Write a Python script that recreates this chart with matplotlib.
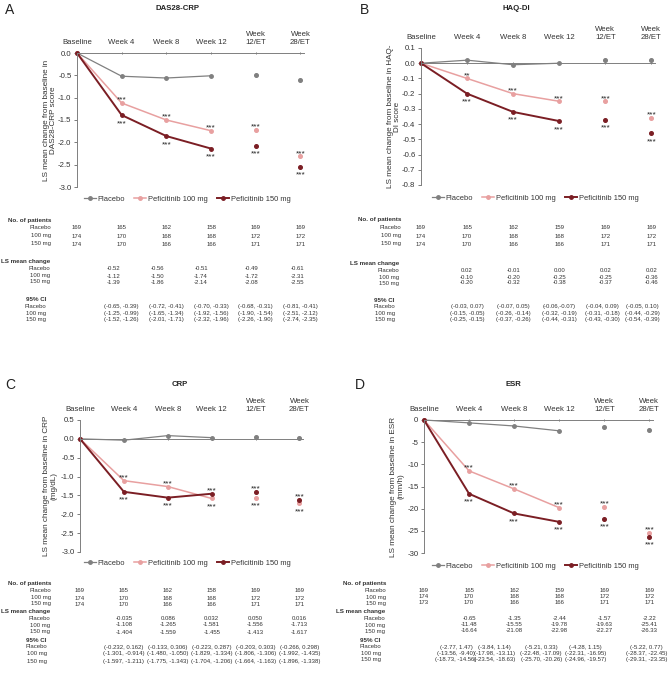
import numpy as np
import matplotlib
matplotlib.use("Agg")
import matplotlib.pyplot as plt
import matplotlib.transforms as mtransforms
from matplotlib.ticker import MultipleLocator, FuncFormatter

plt.rcParams["font.family"] = ["Liberation Sans", "DejaVu Sans"]

W, H = 669, 681

timepoints = ["Baseline", "Week 4", "Week 8", "Week 12", "Week\n12/ET", "Week\n28/ET"]
groups = ["Placebo", "Peficitinib 100 mg", "Peficitinib 150 mg"]
row_names = ["Placebo", "100 mg", "150 mg"]
colors = ["#808080", "#e8a0a0", "#7b1e24"]

# --- DAS28-CRP ---
das_pbo = [0.0, -0.52, -0.56, -0.51, -0.49, -0.61]
das_100 = [0.0, -1.12, -1.50, -1.74, -1.72, -2.31]
das_150 = [0.0, -1.39, -1.86, -2.14, -2.08, -2.55]
das_sig100 = ["***", "***", "***", "***", "***"]
das_sig150 = ["***", "***", "***", "***", "***"]
das_n_pbo = [169, 165, 162, 158, 169, 169]
das_n_100 = [174, 170, 168, 168, 172, 172]
das_n_150 = [174, 170, 166, 166, 171, 171]
das_ci_pbo = ["(-0.65, -0.39)", "(-0.72, -0.41)", "(-0.70, -0.33)", "(-0.68, -0.31)", "(-0.81, -0.41)"]
das_ci_100 = ["(-1.25, -0.99)", "(-1.65, -1.34)", "(-1.92, -1.56)", "(-1.90, -1.54)", "(-2.51, -2.12)"]
das_ci_150 = ["(-1.52, -1.26)", "(-2.01, -1.71)", "(-2.32, -1.96)", "(-2.26, -1.90)", "(-2.74, -2.35)"]

# --- HAQ-DI ---
haq_pbo = [0.0, 0.02, -0.01, 0.00, 0.02, 0.02]
haq_100 = [0.0, -0.10, -0.20, -0.25, -0.25, -0.36]
haq_150 = [0.0, -0.20, -0.32, -0.38, -0.37, -0.46]
haq_sig100 = ["**", "***", "***", "***", "***"]
haq_sig150 = ["***", "***", "***", "***", "***"]
haq_n_pbo = [169, 165, 162, 159, 169, 169]
haq_n_100 = [174, 170, 168, 168, 172, 172]
haq_n_150 = [174, 170, 166, 166, 171, 171]
haq_ci_pbo = ["(-0.03, 0.07)", "(-0.07, 0.05)", "(-0.06,-0.07)", "(-0.04, 0.09)", "(-0.05, 0.10)"]
haq_ci_100 = ["(-0.15, -0.05)", "(-0.26, -0.14)", "(-0.32, -0.19)", "(-0.31, -0.18)", "(-0.44, -0.29)"]
haq_ci_150 = ["(-0.25, -0.15)", "(-0.37, -0.26)", "(-0.44, -0.31)", "(-0.43, -0.30)", "(-0.54, -0.39)"]

# --- CRP ---
crp_pbo = [0.0, -0.035, 0.086, 0.032, 0.050, 0.016]
crp_100 = [0.0, -1.108, -1.265, -1.581, -1.556, -1.713]
crp_150 = [0.0, -1.404, -1.559, -1.455, -1.413, -1.617]
crp_sig100 = ["***", "***", "***", "***", "***"]
crp_sig150 = ["***", "***", "***", "***", "***"]
crp_n_pbo = [169, 165, 162, 158, 169, 169]
crp_n_100 = [174, 170, 168, 168, 172, 172]
crp_n_150 = [174, 170, 166, 166, 171, 171]
crp_ci_pbo = ["(-0.232, 0.162)", "(-0.133, 0.306)", "(-0.223, 0.287)", "(-0.203, 0.303)", "(-0.266, 0.298)"]
crp_ci_100 = ["(-1.301, -0.914)", "(-1.480, -1.050)", "(-1.829, -1.334)", "(-1.806, -1.306)", "(-1.992, -1.435)"]
crp_ci_150 = ["(-1.597, -1.211)", "(-1.775, -1.343)", "(-1.704, -1.206)", "(-1.664, -1.163)", "(-1.896, -1.338)"]

# --- ESR ---
esr_pbo = [0.0, -0.65, -1.35, -2.44, -1.57, -2.22]
esr_100 = [0.0, -11.48, -15.55, -19.78, -19.63, -25.41]
esr_150 = [0.0, -16.64, -21.08, -22.98, -22.27, -26.33]
esr_sig100 = ["***", "***", "***", "***", "***"]
esr_sig150 = ["***", "***", "***", "***", "***"]
esr_n_pbo = [169, 165, 162, 159, 169, 169]
esr_n_100 = [174, 170, 168, 168, 172, 172]
esr_n_150 = [173, 170, 166, 166, 171, 171]
esr_ci_pbo = ["(-2.77, 1.47)", "(-3.84, 1.14)", "(-5.21, 0.33)", "(-4.28, 1.15)", "(-5.22, 0.77)"]
esr_ci_100 = ["(-13.56, -9.40)", "(-17.98, -13.11)", "(-22.48, -17.09)", "(-22.31, -16.95)", "(-28.37, -22.45)"]
esr_ci_150 = ["(-18.73, -14.56)", "(-23.54, -18.63)", "(-25.70, -20.26)", "(-24.96, -19.57)", "(-29.31, -23.35)"]

panels = [
    dict(letter="A", title="DAS28-CRP", ylabel="LS mean change from baseline in\nDAS28-CRP score",
         series=[das_pbo, das_100, das_150], sig=[das_sig100, das_sig150],
         n=[das_n_pbo, das_n_100, das_n_150], ci=[das_ci_pbo, das_ci_100, das_ci_150],
         ylim=(-3.0, 0.0), ystep=0.5, fmt="{:.1f}", dec=2,
         box=(77, 53, 304, 187), letter_xy=(10, 10), title_xy=(178, 9), ylab_x=-0.09,
         leg=(187, 199), lab_r=(51, 50, 46),
         rows=([220, 228, 236, 244], [262, 269, 276, 282], [299, 307, 313, 319]),
         ls_dx=[-8, -9, -10, -4, -3], ci_dx=[0, 0, 0, 0, 0]),
    dict(letter="B", title="HAQ-DI", ylabel="LS mean change from baseline in HAQ-\nDI score",
         series=[haq_pbo, haq_100, haq_150], sig=[haq_sig100, haq_sig150],
         n=[haq_n_pbo, haq_n_100, haq_n_150], ci=[haq_ci_pbo, haq_ci_100, haq_ci_150],
         ylim=(-0.8, 0.1), ystep=0.1, fmt="{:.1f}", dec=2,
         box=(421, 48, 655, 185), letter_xy=(365, 10), title_xy=(516, 9), ylab_x=-0.087,
         leg=(535, 198), lab_r=(401, 399, 395),
         rows=([219, 228, 236, 244], [264, 271, 277, 283], [300, 307, 313, 319]),
         ls_dx=[0, 0, 0, 0, 0], ci_dx=[0, 0, 0, -3, -9]),
    dict(letter="C", title="CRP", ylabel="LS mean change from baseline in CRP\n(mg/dL)",
         series=[crp_pbo, crp_100, crp_150], sig=[crp_sig100, crp_sig150],
         n=[crp_n_pbo, crp_n_100, crp_n_150], ci=[crp_ci_pbo, crp_ci_100, crp_ci_150],
         ylim=(-3.0, 0.5), ystep=0.5, fmt="{:.1f}", dec=3,
         box=(80, 420, 303, 552), letter_xy=(10, 385), title_xy=(180, 385), ylab_x=-0.103,
         leg=(187, 563), lab_r=(51, 50, 47),
         rows=([583, 591, 598, 604], [611, 618, 625, 632], [640, 647, 654, 661]),
         ls_dx=[0, 0, 0, 0, 0], ci_dx=[0, 0, 0, 0, 0]),
    dict(letter="D", title="ESR", ylabel="LS mean change from baseline in ESR\n(mm/h)",
         series=[esr_pbo, esr_100, esr_150], sig=[esr_sig100, esr_sig150],
         n=[esr_n_pbo, esr_n_100, esr_n_150], ci=[esr_ci_pbo, esr_ci_100, esr_ci_150],
         ylim=(-30, 0), ystep=5, fmt="{:.0f}", dec=2,
         box=(424, 420, 653, 553), letter_xy=(360, 385), title_xy=(513, 385), ylab_x=-0.086,
         leg=(535, 566), lab_r=(386, 385, 381),
         rows=([583, 590, 597, 603], [611, 618, 625, 631], [641, 647, 654, 660]),
         ls_dx=[0, 0, 0, 0, 0], ci_dx=[-13, -20, -18, -19, -3]),
]

TXT = "#333333"
fig = plt.figure(figsize=(W / 100, H / 100), dpi=100)


def fx(px):
    return px / W


def fy(py):
    return 1 - py / H


def tick_fmt(f):
    def _f(v, pos):
        s = f.format(round(v, 6) + 0.0)
        return s[1:] if s in ("-0.0", "-0") else s
    return FuncFormatter(_f)


x = np.arange(len(timepoints))

for p in panels:
    l, t, r, b = p["box"]
    ax = fig.add_axes([fx(l), fy(b), fx(r - l), (b - t) / H])

    handles = []
    for vals, col, lw in zip(p["series"], colors, [0.9, 1.1, 1.4]):
        ln, = ax.plot(x[:4], vals[:4], "-o", color=col, lw=lw, ms=2.5, clip_on=False)
        ax.plot(x[4:], vals[4:], "o", color=col, ms=2.6, clip_on=False)
        handles.append(ln)

    # significance stars: upper one above the higher arm, lower one below
    v100, v150 = p["series"][1], p["series"][2]
    for i in range(1, 6):
        pairs = [(v100[i], p["sig"][0][i - 1]), (v150[i], p["sig"][1][i - 1])]
        hi, lo = sorted(pairs, key=lambda z: -z[0])
        ax.annotate(hi[1], (x[i], hi[0]), xytext=(0, 2.0), textcoords="offset points",
                    ha="center", va="center", fontsize=6, color="#222222")
        ax.annotate(lo[1], (x[i], lo[0]), xytext=(0, -6.0), textcoords="offset points",
                    ha="center", va="center", fontsize=6, color="#222222")

    ax.set_xlim(0, 5.08)
    ax.set_ylim(*p["ylim"])
    ax.yaxis.set_major_locator(MultipleLocator(p["ystep"]))
    ax.yaxis.set_major_formatter(tick_fmt(p["fmt"]))
    ax.set_xticks(x)
    ax.set_xticklabels(timepoints)
    ax.tick_params(axis="x", bottom=True, top=False, labelbottom=False, labeltop=True,
                   length=2, width=0.6, direction="inout", labelsize=5.6, pad=4, colors="#666666",
                   labelcolor=TXT)
    ax.tick_params(axis="y", length=2, width=0.6, labelsize=5.6, pad=2, colors="#666666",
                   labelcolor=TXT)
    for s in ["top", "right"]:
        ax.spines[s].set_visible(False)
    ax.spines["bottom"].set_position(("data", 0))
    for s in ["bottom", "left"]:
        ax.spines[s].set_color("#7f7f7f")
        ax.spines[s].set_linewidth(0.7)
    ax.set_ylabel(p["ylabel"], fontsize=5.9, color=TXT, linespacing=1.0)
    ax.yaxis.set_label_coords(p["ylab_x"], 0.5)

    ax.legend(handles, groups, loc="center", bbox_to_anchor=(fx(p["leg"][0]), fy(p["leg"][1])),
              bbox_transform=fig.transFigure, ncol=3, frameon=False, fontsize=5.4,
              handlelength=1.6, handletextpad=0.2, columnspacing=1.3, labelcolor=TXT)

    fig.text(fx(p["letter_xy"][0]), fy(p["letter_xy"][1]), p["letter"], fontsize=10,
             ha="center", va="center", color="#222222")
    fig.text(fx(p["title_xy"][0]), fy(p["title_xy"][1]), p["title"], fontsize=5.6,
             fontweight="bold", ha="center", va="center", color="#222222")

    # table below the chart
    blend = mtransforms.blended_transform_factory(ax.transData, fig.transFigure)
    heads = ["No. of patients", "LS mean change", "95% CI"]
    for k, (head, ys) in enumerate(zip(heads, p["rows"])):
        fig.text(fx(p["lab_r"][k]), fy(ys[0]), head, fontsize=4.5, fontweight="bold",
                 ha="right", va="center", color=TXT)
        for j, name in enumerate(row_names):
            fig.text(fx(p["lab_r"][k]), fy(ys[j + 1]), name, fontsize=4.3,
                     ha="right", va="center", color=TXT)
            if k == 0:
                cells = [(i, str(v), 0) for i, v in enumerate(p["n"][j])]
            elif k == 1:
                cells = [(i, f"{p['series'][j][i]:.{p['dec']}f}", p["ls_dx"][i - 1])
                         for i in range(1, 6)]
            else:
                cells = [(i, p["ci"][j][i - 1], p["ci_dx"][i - 1]) for i in range(1, 6)]
            for i, s, dx in cells:
                tr = mtransforms.offset_copy(blend, fig=fig, x=dx, y=0, units="dots")
                fig.text(x[i], fy(ys[j + 1]), s, transform=tr, fontsize=4.3,
                         ha="center", va="center", color=TXT)

fig.savefig("out.png", dpi=100)
